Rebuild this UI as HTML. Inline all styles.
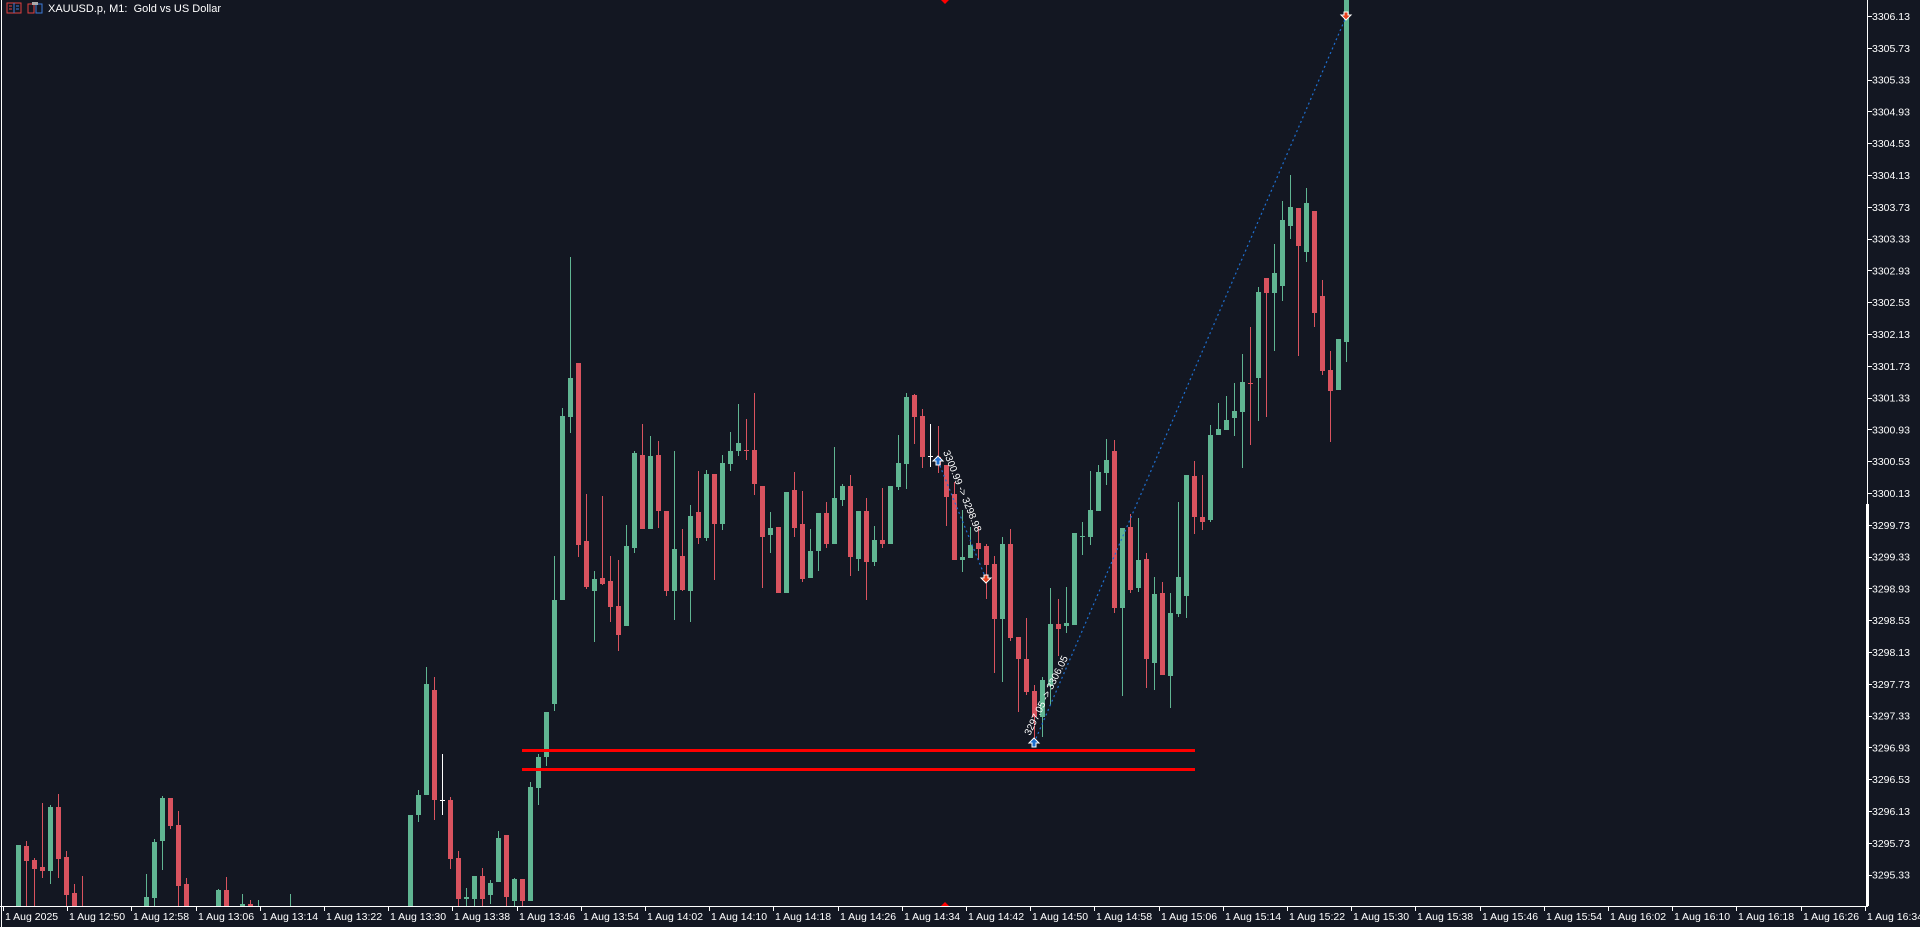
<!DOCTYPE html>
<html><head><meta charset="utf-8"><style>
html,body{margin:0;padding:0;background:#131722;}
svg{display:block}
text{font-family:"Liberation Sans",sans-serif;fill:#fff}
</style></head><body>
<svg id="s" width="1920" height="927" xmlns="http://www.w3.org/2000/svg">
<rect width="1920" height="927" fill="#131722"/>
<defs><clipPath id="c"><rect x="2" y="0" width="1865" height="906"/></clipPath></defs>
<g id="candles" clip-path="url(#c)"></g>
<line x1="1.5" y1="0" x2="1.5" y2="927" stroke="#fff" stroke-width="1"/>
<line x1="1867.5" y1="0" x2="1867.5" y2="906" stroke="#fff" stroke-width="1"/>
<rect x="1866" y="504" width="3" height="402" fill="#fff"/>
<line x1="0" y1="906.5" x2="1868" y2="906.5" stroke="#fff" stroke-width="1"/>
<g id="pax"></g><g id="tax"></g>
<rect x="522" y="749" width="673" height="3" fill="#ff0000"/>
<rect x="522" y="768" width="673" height="3" fill="#ff0000"/>
<line x1="938" y1="461" x2="986" y2="579" stroke="#1e6fd0" stroke-width="1.2" stroke-dasharray="2,3"/>
<line x1="1034" y1="743" x2="1346" y2="17" stroke="#1e6fd0" stroke-width="1.2" stroke-dasharray="2,3"/>
<text font-size="10" transform="translate(943,452) rotate(68)">3300.99 -&gt; 3298.98</text>
<text font-size="10" transform="translate(1030,736) rotate(-64)">3297.05 -&gt; 3306.05</text>
<path d="M938 456 L943 461 L940 461 L940 465 L936 465 L936 461 L933 461 Z" fill="#1e6fd0" stroke="#fff" stroke-width="1"/>
<path d="M1034 738 L1039 743 L1036 743 L1036 747 L1032 747 L1032 743 L1029 743 Z" fill="#1e6fd0" stroke="#fff" stroke-width="1"/>
<path d="M986 583 L991 578 L988 578 L988 575 L984 575 L984 578 L981 578 Z" fill="#e8401c" stroke="#fff" stroke-width="1"/>
<path d="M1346 20 L1351 15 L1348 15 L1348 12 L1344 12 L1344 15 L1341 15 Z" fill="#e8401c" stroke="#fff" stroke-width="1"/>
<path d="M941 0 L949 0 L945 4 Z" fill="#ff0000"/>
<path d="M941 906 L949 906 L945 902 Z" fill="#ff0000"/>
<rect x="7" y="3" width="14" height="10" fill="none" stroke="#e04040" stroke-width="1"/>
<line x1="14" y1="3" x2="14" y2="13" stroke="#3d7bd8"/>
<line x1="9" y1="6" x2="12" y2="6" stroke="#e04040"/><line x1="9" y1="9" x2="12" y2="9" stroke="#e04040"/>
<line x1="16" y1="6" x2="19" y2="6" stroke="#3d7bd8"/><line x1="16" y1="9" x2="19" y2="9" stroke="#3d7bd8"/>
<rect x="28" y="4" width="6" height="9" fill="none" stroke="#e04040"/>
<rect x="36" y="4" width="6" height="9" fill="none" stroke="#3d7bd8"/>
<rect x="32" y="2" width="6" height="3" fill="#aaa"/>
<text x="48" y="12" font-size="11">XAUUSD.p, M1:&#160; Gold vs US Dollar</text>
</svg>
<script>
var D=[
[2,'g',845,906,845,906],[3,'r',846,861,841,906],[4,'r',860,869,858,906],[5,'r',867,871,803,878],[6,'g',807,871,805,884],[7,'r',807,859,794,878],[8,'r',857,895,851,906],[9,'r',893,906,884,906],[10,'r',906,906,876,906],
[18,'g',897,906,874,906],[19,'g',842,898,839,906],[20,'g',798,841,796,870],[21,'r',798,826,798,829],[22,'r',825,886,811,906],[23,'r',884,906,878,906],[27,'g',890,906,889,906],[28,'r',890,906,877,906],[30,'g',904,906,894,906],[31,'r',904,906,900,906],[32,'g',906,906,900,906],[36,'g',906,906,894,906],
[51,'g',815,906,815,906],[52,'g',795,815,790,822],[53,'g',684,795,667,795],[54,'r',690,800,677,820],[55,'w',800,800,754,815],[56,'r',800,859,797,869],[57,'r',858,899,851,906],[58,'g',897,899,888,906],[59,'g',876,899,876,906],[60,'r',876,899,868,906],[61,'g',883,895,880,904],[62,'g',838,882,831,882],[63,'r',835,897,835,906],[64,'g',879,901,878,906],[65,'r',879,901,879,906],[66,'g',787,901,782,901],[67,'g',757,788,754,805],[68,'g',712,757,712,766],[69,'g',600,704,556,711],[70,'g',416,600,408,600],[71,'g',378,417,257,433],[72,'r',363,545,363,557],[73,'r',541,587,494,589],[74,'g',579,591,571,642],[75,'r',578,584,496,585],[76,'r',581,607,556,622],[77,'r',606,635,560,651],[78,'g',546,626,525,626],[79,'g',453,548,451,553],[80,'r',455,529,424,529],[81,'g',456,529,436,529],[82,'r',455,511,441,528],[83,'r',511,591,511,596],[84,'g',549,591,451,620],[85,'r',556,590,529,591],[86,'g',516,591,505,622],[87,'r',512,538,471,544],[88,'g',474,538,470,541],[89,'r',474,524,474,580],[90,'g',463,524,455,530],[91,'g',451,464,432,471],[92,'g',443,451,404,456],[93,'r',450,451,419,460],[94,'r',450,484,393,495],[95,'r',486,537,486,588],[96,'g',528,535,512,553],[97,'r',527,593,527,593],[98,'g',492,593,492,593],[99,'r',490,528,472,537],[100,'r',524,579,491,582],[101,'g',551,578,529,578],[102,'g',513,551,513,571],[103,'r',513,544,502,548],[104,'g',498,544,447,544],[105,'g',486,500,484,506],[106,'r',486,557,475,576],[107,'g',511,559,511,571],[108,'r',511,562,498,600],[109,'g',540,562,526,566],[110,'r',540,544,488,548],[111,'g',486,544,486,544],[112,'g',463,487,435,490],[113,'g',397,464,393,489],[114,'r',395,417,394,444],[115,'r',416,457,409,468],[116,'w',456,456,424,467],[117,'r',457,465,426,473],[118,'r',465,497,465,526],[119,'r',494,560,482,560],[120,'g',557,560,510,572],[121,'g',545,558,527,558],[122,'r',543,549,526,560],[123,'r',546,565,544,599],[124,'r',564,619,556,673],[125,'g',544,619,537,682],[126,'r',544,638,529,641],[127,'r',637,659,637,712],[128,'r',659,692,618,695],[129,'r',691,717,685,740],[130,'g',680,717,677,737],[131,'g',624,686,588,705],[132,'r',624,629,599,656],[133,'g',623,626,587,633],[134,'g',533,625,533,625],[135,'g',536,537,522,555],[136,'g',510,537,471,545],[137,'g',472,511,465,511],[138,'g',460,473,439,485],[139,'r',451,608,440,613],[140,'g',528,608,528,696],[141,'r',527,590,514,593],[142,'g',560,588,518,592],[143,'r',559,659,553,688],[144,'g',594,663,577,690],[145,'r',593,675,582,675],[146,'g',613,676,593,708],[147,'g',577,614,502,617],[148,'g',475,596,475,618],[149,'r',476,517,461,534],[150,'r',517,522,475,530],[151,'g',435,520,425,522],[152,'g',429,435,403,435],[153,'g',420,430,396,430],[154,'g',411,418,383,436],[155,'g',382,412,354,468],[156,'r',383,384,327,445],[157,'g',292,378,287,421],[158,'r',278,293,278,417],[159,'g',273,293,244,351],[160,'g',220,286,201,301],[161,'g',207,226,175,239],[162,'r',208,246,208,356],[163,'g',203,252,188,262],[164,'r',211,313,211,327],[165,'r',296,371,280,375],[166,'r',370,391,351,442],[167,'g',339,390,339,390],[168,'g',0,342,0,362]];
var C={g:'#60b592',r:'#d9535f',w:'#ffffff'};
var h='';
D.forEach(function(d){var cx=2+8*d[0],c=C[d[1]];
h+='<rect x="'+cx+'" y="'+d[4]+'" width="1" height="'+Math.max(1,d[5]-d[4])+'" fill="'+c+'"/>';
if(d[1]=='w'){h+='<rect x="'+(cx-2)+'" y="'+d[2]+'" width="5" height="1" fill="'+c+'"/>';}
else h+='<rect x="'+(cx-2)+'" y="'+d[2]+'" width="5" height="'+Math.max(1,d[3]-d[2])+'" fill="'+c+'"/>';});
document.getElementById('candles').innerHTML=h;
var p='';
for(var k=0;k<28;k++){var y=16+k*31.8;var v=(3306.13-k*0.4).toFixed(2);
p+='<line x1="1868" y1="'+(Math.round(y)+0.5)+'" x2="1872" y2="'+(Math.round(y)+0.5)+'" stroke="#fff"/><text x="1872" y="'+(y+4)+'" font-size="10.5">'+v+'</text>';}
document.getElementById('pax').innerHTML=p;
var t='';
for(var k=0;k<30;k++){var x=Math.round(3+64.2*k);var m=12*60+42+8*k;var hh=Math.floor(m/60),mm=m%60;
var lab=k==0?'1 Aug 2025':'1 Aug '+hh+':'+(mm<10?'0':'')+mm;
t+='<line x1="'+(x+0.5)+'" y1="906" x2="'+(x+0.5)+'" y2="911" stroke="#fff"/>';
t+='<text x="'+(x+2)+'" y="920" font-size="10.5">'+lab+'</text>';}
document.getElementById('tax').innerHTML=t;
</script>
</body></html>
